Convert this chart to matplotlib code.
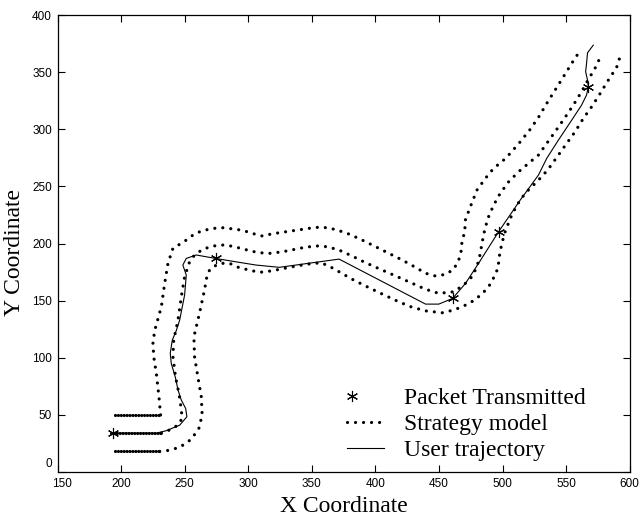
import matplotlib
matplotlib.use("Agg")
import numpy as np
import matplotlib.pyplot as plt
from matplotlib.lines import Line2D
from matplotlib.legend_handler import HandlerLine2D
from matplotlib.transforms import ScaledTranslation

# ---------------- data ----------------
upper_x = [195, 231, 229.7, 227.7, 225.6, 225, 226.4, 231.6, 234.2, 236.8, 240.7, 249.9, 256.4,
           263, 270.8, 278.6, 286.5, 294.3, 302, 307.3, 311.3, 316.5, 324.3, 334.8, 353.1, 362.2,
           370.1, 379.2, 389.7, 400.2, 410.6, 421, 431.5, 439.4, 447.2, 455, 461.5, 465.5, 467.6,
           468, 470.2, 470.7, 474.6, 479.8, 486.4, 492.9, 500.7, 506, 513.8, 521.7, 528.2, 534.7,
           541.3, 547.8, 554.3, 560.9]
upper_y = [50, 50, 66, 86, 101, 113, 124, 144.7, 165, 182.7, 195.8, 202, 207.4,
           211, 213, 214, 213, 211.8, 209.5, 207.4, 206.6, 208, 209.5, 211.2, 214.2, 213.9,
           211.8, 208.3, 203, 197.2, 191.4, 185.6, 179.2, 174, 171.6, 173, 177.4, 185.6, 194.3,
           201.6, 210.3, 220.6, 232.2, 246.8, 257, 265.8, 273, 279, 289, 300, 310.5, 322.7,
           334.4, 346, 357.7, 368.8]

mid_x = [192, 231.6, 238, 244.6, 248, 247, 245.4, 242.8, 240.7, 241.3, 244.7, 247.3, 249.9,
         253.8, 257.7, 264.2, 272, 279.9, 286.5, 294.3, 302.2, 308.7, 316.5, 326.9, 342.6, 353.1,
         362.2, 371.4, 381.8, 392.3, 405.3, 418.4, 428.9, 439.4, 449.8, 461.5, 469.4, 475.9,
         479.8, 482.5, 483.7, 485.9, 488.4, 492.9, 498.1, 504.7, 512.5, 520.3, 528.2, 534.7,
         541.3, 548.6, 555.6, 562.1, 567.4, 572, 575.2, 577.3]
mid_y = [34, 34, 36.8, 41, 47, 57, 69, 83, 101, 115.5, 133, 153.4, 171,
         184, 190, 195, 197.8, 198.7, 197.8, 195.8, 193.4, 192, 191.4, 192.8, 196.3, 198,
         197.2, 194.3, 189, 183.2, 176.8, 170.4, 165.2, 160, 156.4, 157.8, 163.7, 171,
         179.7, 191.4, 200, 211.8, 222, 233.6, 244, 254, 262.8, 270.2, 277.5, 287.7,
         297.9, 309.6, 321.2, 332.9, 343.7, 352, 359, 365.9]

lower_x = [195, 230.3, 235, 246, 255.1, 261.1, 263.7, 263, 260.3, 257.7, 257.2, 261.6, 265.5,
           267.4, 269.5, 273.4, 278.6, 285.2, 293, 300.8, 308.7, 319.1, 332.2, 346.5, 357, 363.5,
           371.4, 381.8, 392.3, 405.3, 418.4, 428.9, 440, 452.4, 461.5, 469.4, 477.2, 483.7,
           489, 492.9, 496.3, 497.6, 499.4, 502, 506, 511.2, 517.7, 525.6, 532, 537.3, 543.9,
           550.4, 557, 563.5, 570, 576.5, 581.8, 585.7, 589.6, 591.9]
lower_y = [18, 18, 18.4, 21.6, 28.6, 38.2, 50, 66, 83.4, 101, 118.4, 139, 159.3,
           171, 176.8, 180.3, 182.7, 182.7, 178.8, 176.8, 174.8, 176.2, 179.2, 182, 183.2, 180.3,
           175.3, 168.7, 162.8, 155.8, 149, 144.2, 141, 139.4, 141.8, 145.3, 150, 155.8,
           162.2, 170, 178.3, 190, 200.2, 210.3, 222, 233.6, 244, 252.7, 260, 267.3, 277.5,
           287.7, 297.9, 309.6, 319.7, 331, 340.7, 347.5, 354, 362]

user_x = [193.2, 227.7, 235.5, 246, 251.7, 250.7, 247.3, 244.7, 242.6, 239.4, 238.6, 240.2,
          243.4, 246, 249.9, 251.2, 248.5, 251.2, 259, 274.2, 290.4, 306, 324.3, 371.4, 439.4,
          449.8, 460.7, 470.7, 481.1, 496.8, 513.8, 528.2, 534.7, 543.9, 554.3, 562.1, 566,
          567.4, 566.8, 565.3, 566, 566.8, 571.3]
user_y = [34, 34, 36.2, 41, 48.4, 55.7, 63, 71.8, 83, 95, 104, 115.5,
          124, 133, 155, 172.4, 181.2, 187, 190, 187, 184, 181.2, 179.2, 186.4, 147,
          147, 152, 165, 182.7, 210.3, 238, 260, 274.6, 290.6, 308, 321.2, 330,
          337.2, 343, 350.4, 357.7, 367, 373.7]

packet_x = [193.2, 274.2, 461.0, 497.0, 567.4]
packet_y = [34, 187, 152.5, 210.3, 337.2]

legend_labels = ["Packet Transmitted", "Strategy model", "User trajectory"]
x_ticks = [150, 200, 250, 300, 350, 400, 450, 500, 550, 600]
y_ticks = [0, 50, 100, 150, 200, 250, 300, 350, 400]


class LeftMarkerHandler(HandlerLine2D):
    """Marker-only legend entry drawn near the left end of the handle box."""
    def create_artists(self, legend, orig_handle, xdescent, ydescent,
                       width, height, fontsize, trans):
        artists = super().create_artists(legend, orig_handle, xdescent, ydescent,
                                         width, height, fontsize, trans)
        for a in artists:
            xd = np.asarray(a.get_xdata(), dtype=float)
            a.set_xdata(np.full_like(xd, -xdescent + 0.15 * width))
        return artists


# ---------------- figure ----------------
fig = plt.figure(figsize=(6.4, 5.21), dpi=100)
ax = fig.add_axes([0.09, 0.094, 0.894, 0.877])

dot_style = dict(color="black", linewidth=2.3, linestyle=(0, (0.01, 2.5)),
                 dash_capstyle="round")
dense_style = dict(color="black", linewidth=2.3, linestyle=(0, (0.01, 0.9)),
                   dash_capstyle="round")

for xs, ys in [(upper_x, upper_y), (mid_x, mid_y), (lower_x, lower_y)]:
    ax.plot(xs[1:], ys[1:], **dot_style)
    ax.plot(xs[:2], ys[:2], **dense_style)

ax.plot(user_x, user_y, color="black", linewidth=0.8)
star = (6, 2, 0)
ax.plot(packet_x, packet_y, linestyle="none", marker=star, markersize=8,
        markeredgewidth=0.8, color="black")

ax.set_xlim(150, 600)
ax.set_ylim(0, 400)
ax.set_xticks(x_ticks)
ax.set_yticks(y_ticks)
ax.tick_params(direction="in", length=5, width=0.8, top=True, right=True,
               labelsize=8.5, pad=4)
for lab in ax.get_xticklabels() + ax.get_yticklabels():
    lab.set_fontfamily("Liberation Sans")
# nudge the corner labels apart, as in the reference
ylab0 = ax.get_yticklabels()[0]
ylab0.set_transform(ylab0.get_transform() + ScaledTranslation(0, 7 / 72, fig.dpi_scale_trans))
xlab0 = ax.get_xticklabels()[0]
xlab0.set_transform(xlab0.get_transform() + ScaledTranslation(3 / 72, 0, fig.dpi_scale_trans))
for s in ax.spines.values():
    s.set_linewidth(0.9)

serif = "Liberation Serif"
ax.set_xlabel("X Coordinate", fontsize=17, fontfamily=serif)
ax.set_ylabel("Y Coordinate", fontsize=17, fontfamily=serif)
ax.xaxis.set_label_coords(0.5, -0.052)
ax.yaxis.set_label_coords(-0.057, 0.48)

h_star = Line2D([], [], linestyle="none", marker=star, markersize=8,
                markeredgewidth=0.8, color="black")
h_dot = Line2D([], [], **dot_style)
h_line = Line2D([], [], color="black", linewidth=0.8)
leg = ax.legend([h_star, h_dot, h_line], legend_labels, loc="upper left",
                bbox_to_anchor=(0.505, 0.184), frameon=False,
                prop={"family": serif, "size": 17}, handlelength=1.6,
                handletextpad=0.85, labelspacing=0.18, borderpad=0,
                borderaxespad=0, numpoints=1,
                handler_map={h_star: LeftMarkerHandler()})

fig.savefig("out.png", dpi=100)
